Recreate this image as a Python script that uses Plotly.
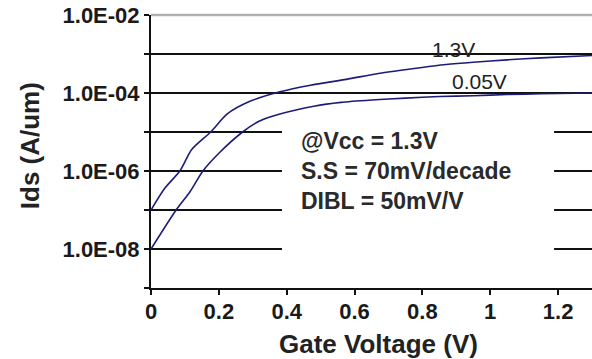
import plotly.graph_objects as go

# Gate voltage (V) and drain current (A/um)
vg_hi = [0, 0.04, 0.085, 0.12, 0.176, 0.224, 0.29, 0.38, 0.47, 0.576, 0.67, 0.77, 0.87, 0.95, 1.05, 1.15, 1.3]
ids_hi = [1.0e-7, 3.55e-7, 1.0e-6, 3.55e-6, 1.0e-5, 2.88e-5, 6.03e-5, 1.07e-4, 1.58e-4, 2.24e-4,
          3.16e-4, 4.17e-4, 5.37e-4, 6.17e-4, 7.08e-4, 7.94e-4, 9.12e-4]

vg_lo = [0, 0.074, 0.115, 0.153, 0.203, 0.27, 0.32, 0.38, 0.48, 0.56, 0.65, 0.75, 0.85, 0.95, 1.05, 1.15, 1.3]
ids_lo = [1.0e-8, 1.0e-7, 2.95e-7, 1.0e-6, 3.02e-6, 1.0e-5, 1.91e-5, 2.88e-5, 4.57e-5, 5.75e-5,
          6.61e-5, 7.41e-5, 8.13e-5, 8.51e-5, 9.12e-5, 9.55e-5, 1.0e-4]

y_tickvals = [1e-9, 1e-8, 1e-7, 1e-6, 1e-5, 1e-4, 1e-3, 1e-2]
y_ticktext = ["", "1.0E-08", "", "1.0E-06", "", "1.0E-04", "", "1.0E-02"]
x_tickvals = [0, 0.2, 0.4, 0.6, 0.8, 1.0, 1.2]
x_ticktext = ["0", "0.2", "0.4", "0.6", "0.8", "1", "1.2"]

series_names = ["1.3V", "0.05V"]
note_lines = ["@Vcc = 1.3V", "S.S = 70mV/decade", "DIBL = 50mV/V"]

FONT = "Liberation Sans"
CURVE = "#1c1c78"

fig = go.Figure()
fig.add_trace(go.Scatter(x=vg_hi, y=ids_hi, mode="lines", name=series_names[0],
                         line=dict(color=CURVE, width=1.6, shape="spline", smoothing=0.7)))
fig.add_trace(go.Scatter(x=vg_lo, y=ids_lo, mode="lines", name=series_names[1],
                         line=dict(color=CURVE, width=1.6, shape="spline", smoothing=0.7)))

# white text box that hides part of the grid (no data underneath)
fig.add_shape(type="rect", xref="paper", x0=0.297, x1=0.914, yref="paper", y0=0.12, y1=0.60,
              fillcolor="white", line=dict(width=0), layer="above")
# light top border
fig.add_shape(type="line", xref="paper", x0=0, x1=1, yref="paper", y0=1, y1=1,
              line=dict(color="#b0b0b0", width=2.5), layer="above")

fig.add_annotation(xref="paper", yref="paper", x=0.336, y=0.592, xanchor="left", yanchor="top",
                   text="<br>".join(note_lines), showarrow=False, align="left",
                   font=dict(family=FONT, size=23, color="#2a2a2a", weight="bold"))
fig.add_annotation(xref="paper", yref="paper", x=0.687, y=0.872, xanchor="center", yanchor="middle",
                   text=series_names[0], showarrow=False,
                   font=dict(family=FONT, size=21, color="#222222"))
fig.add_annotation(xref="paper", yref="paper", x=0.746, y=0.758, xanchor="center", yanchor="middle",
                   text=series_names[1], showarrow=False,
                   font=dict(family=FONT, size=21, color="#222222"))

# axis titles
fig.add_annotation(xref="paper", yref="paper", x=0.516, y=-0.205, xanchor="center", yanchor="middle",
                   text="Gate Voltage (V)", showarrow=False,
                   font=dict(family=FONT, size=26, color="#222222", weight="bold"))
fig.add_annotation(xref="paper", yref="paper", x=-0.274, y=0.52, xanchor="center", yanchor="middle",
                   text="Ids (A/um)", textangle=-90, showarrow=False,
                   font=dict(family=FONT, size=26, color="#222222", weight="bold"))

fig.update_layout(
    width=592, height=359,
    margin=dict(l=151, r=0, t=15, b=71),
    paper_bgcolor="white", plot_bgcolor="white",
    showlegend=False,
    xaxis=dict(range=[0, 1.3], tickvals=x_tickvals, ticktext=x_ticktext,
               showgrid=False, zeroline=False, showline=True, linecolor="#111111", linewidth=2,
               ticks="outside", ticklen=5, tickwidth=2, tickcolor="#111111",
               ticklabelstandoff=-2,
               tickfont=dict(family=FONT, size=22, color="#1a1a1a", weight="bold")),
    yaxis=dict(type="log", range=[-9, -2], tickvals=y_tickvals, ticktext=y_ticktext,
               showgrid=True, gridcolor="#111111", gridwidth=2,
               zeroline=False, showline=True, linecolor="#111111", linewidth=2,
               ticks="outside", ticklen=5, tickwidth=2, tickcolor="#111111",
               tickfont=dict(family=FONT, size=22, color="#1a1a1a", weight="bold")),
)

fig.write_html("out.html")
